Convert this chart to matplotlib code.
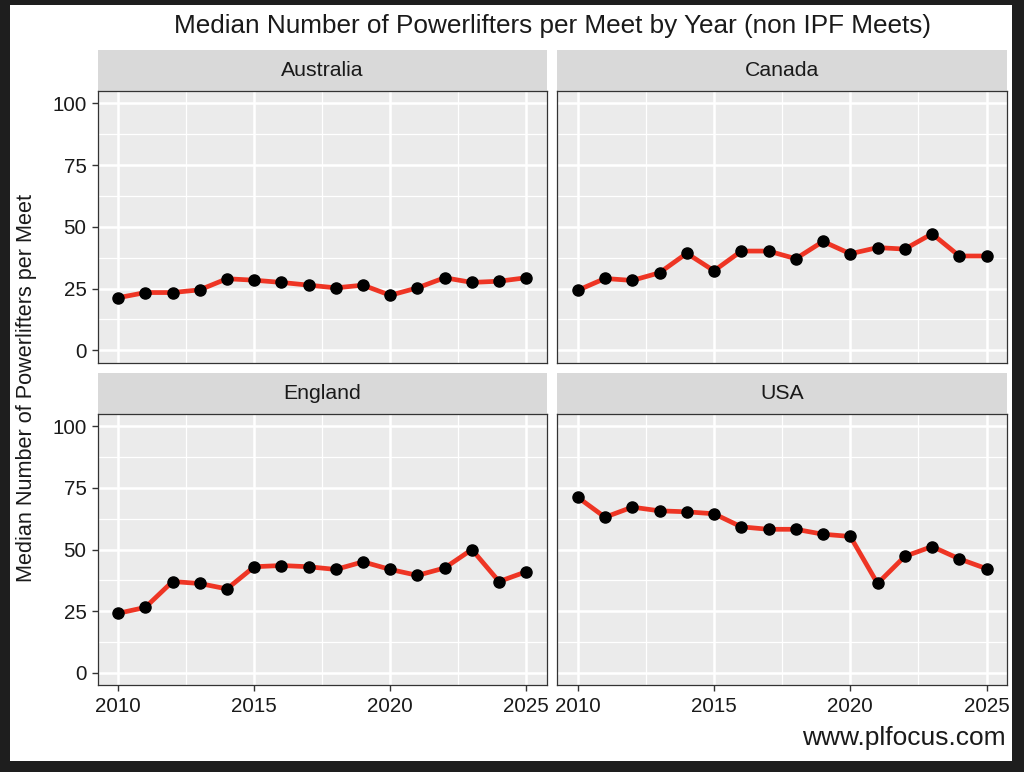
import matplotlib.pyplot as plt
from matplotlib.patches import Rectangle

plt.rcParams['font.family'] = ['Liberation Sans', 'DejaVu Sans']

years = list(range(2010, 2026))
countries = ["Australia", "Canada", "England", "USA"]
australia = [21.3, 23.4, 23.4, 24.5, 29.0, 28.4, 27.5, 26.4, 25.3, 26.4, 22.3, 25.3, 29.4, 27.5, 28.0, 29.4]
canada = [24.3, 29.1, 28.3, 31.4, 39.3, 32.2, 40.2, 40.2, 37.1, 44.1, 39.1, 41.6, 41.0, 47.2, 38.2, 38.2]
england = [24.1, 26.5, 37.0, 36.2, 34.0, 43.0, 43.5, 43.0, 41.9, 45.0, 41.9, 39.5, 42.5, 50.0, 37.0, 41.0]
usa = [71.2, 63.1, 67.2, 65.7, 65.3, 64.5, 59.2, 58.2, 58.2, 56.2, 55.3, 36.2, 47.2, 51.2, 46.2, 42.2]
series = [australia, canada, england, usa]
y_ticks = [0, 25, 50, 75, 100]
x_ticks = [2010, 2015, 2020, 2025]

W, H = 1024, 772
fig = plt.figure(figsize=(W / 100, H / 100), dpi=100, facecolor="#1e1e1e")
fig.patches.append(Rectangle((10 / W, 1 - 761 / H), 1002 / W, 756 / H,
                             transform=fig.transFigure, facecolor="white",
                             edgecolor="none", zorder=-10))


def px_axes(x0, y0, x1, y1, **kw):
    return fig.add_axes([x0 / W, 1 - y1 / H, (x1 - x0) / W, (y1 - y0) / H], **kw)


cols = [(97.7, 546.7), (557.3, 1007)]
rows = [(50, 91, 362.7), (372.7, 414, 685)]
text_col = "#1a1a1a"

for i, (name, vals) in enumerate(zip(countries, series)):
    r, c = divmod(i, 2)
    x0, x1 = cols[c]
    s0, p0, p1 = rows[r]
    # strip
    sax = px_axes(x0, s0, x1, p0, facecolor="#d9d9d9")
    sax.set_xticks([])
    sax.set_yticks([])
    for sp in sax.spines.values():
        sp.set_visible(False)
    sax.text(0.5, 0.5, name, ha="center", va="center", fontsize=15.3,
             color=text_col, transform=sax.transAxes)
    # panel
    ax = px_axes(x0, p0, x1, p1, facecolor="#ebebeb")
    ax.set_xlim(2009.25, 2025.75)
    ax.set_ylim(-5, 105)
    ax.set_xticks(x_ticks)
    ax.set_yticks(y_ticks)
    ax.set_xticks([2012.5, 2017.5, 2022.5], minor=True)
    ax.set_yticks([12.5, 37.5, 62.5, 87.5], minor=True)
    ax.grid(which="major", color="white", linewidth=1.8)
    ax.grid(which="minor", color="white", linewidth=0.9)
    ax.set_axisbelow(True)
    ax.tick_params(which="minor", length=0)
    ax.tick_params(which="major", length=4, width=1, color="#333333",
                   labelsize=14.8, labelcolor=text_col)
    ax.tick_params(axis="x", pad=5)
    ax.tick_params(axis="y", pad=4)
    if r == 0:
        ax.tick_params(axis="x", which="major", length=0, labelbottom=False)
    if c == 1:
        ax.tick_params(axis="y", which="major", length=0, labelleft=False)
    for sp in ax.spines.values():
        sp.set_color("#333333")
        sp.set_linewidth(0.9)
    ax.plot(years, vals, color="#ee3524", linewidth=3.4, zorder=3)
    ax.plot(years, vals, "o", color="black", markersize=8, zorder=4)

fig.text(553 / W, 1 - 26 / H, "Median Number of Powerlifters per Meet by Year (non IPF Meets)",
         ha="center", va="center", fontsize=18.8, color=text_col)
fig.text(27 / W, 1 - 388 / H, "Median Number of Powerlifters per Meet",
         ha="center", va="center", rotation=90, fontsize=15.6, color=text_col)
fig.text(1006 / W, 1 - 738 / H, "www.plfocus.com",
         ha="right", va="center", fontsize=19, color=text_col)

fig.savefig("out.png", dpi=100, facecolor=fig.get_facecolor())
